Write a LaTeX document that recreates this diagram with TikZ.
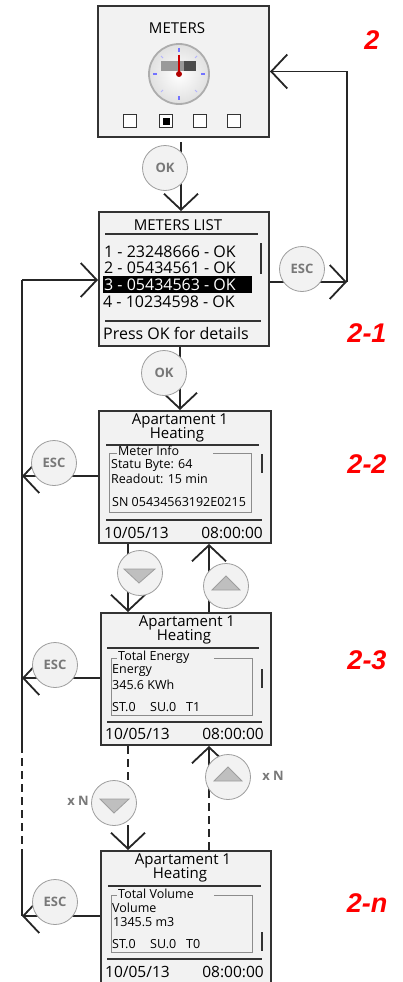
\documentclass[tikz,border=0pt]{standalone}
\usepackage{fontspec}
\setmainfont{Open Sans}
\newfontfamily\tagfont{Liberation Sans}
\usetikzlibrary{arrows.meta,backgrounds}
\definecolor{screenfill}{rgb}{0.95,0.95,0.95}
\definecolor{screenline}{rgb}{0.2,0.2,0.2}
\definecolor{keyline}{rgb}{0.62,0.62,0.62}
\definecolor{keytext}{rgb}{0.47,0.47,0.47}
\definecolor{keytri}{rgb}{0.75,0.75,0.75}
\definecolor{frameline}{rgb}{0.55,0.55,0.55}
\tikzset{
  screenbox/.style={draw=screenline, fill=screenfill, line width=2pt, inner sep=0pt},
  softkey/.style={circle, draw=keyline, fill=screenfill, line width=0.8pt, minimum size=45pt, inner sep=0pt, text=keytext, font=\fontsize{13}{13}\selectfont\bfseries},
  flowline/.style={draw=black!85, line width=1.8pt},
  flowarrow/.style={flowline, -{Straight Barb[length=16pt,width=34pt,line width=1.8pt]}},
  dashline/.style={flowline, dash pattern=on 8pt off 5pt},
  steptag/.style={text=red, font=\tagfont\fontsize{27}{27}\selectfont\bfseries\itshape},
  titletext/.style={inner sep=0pt, font=\fontsize{15}{15}\selectfont},
  rowtext/.style={inner sep=0pt, anchor=west, font=\fontsize{16}{16}\selectfont},
  infotext/.style={inner sep=0pt, anchor=west, font=\fontsize{12.5}{12.5}\selectfont},
  timetext/.style={inner sep=0pt, font=\fontsize{15.5}{15.5}\selectfont},
  countext/.style={inner sep=0pt, text=keytext, font=\fontsize{13}{13}\selectfont\bfseries},
  sepline/.style={draw=screenline, line width=1.5pt},
  scrollbar/.style={draw=screenline, line width=2.4pt},
  framebox/.style={draw=frameline, line width=0.9pt},
  selector/.style={draw=screenline, fill=white!90!screenfill, line width=1.7pt},
  keytriangle/.style={draw=keyline, fill=keytri, line width=0.8pt}
}
\begin{document}
\begin{tikzpicture}[x=1pt,y=-1pt]
\useasboundingbox (0,0) rectangle (403,982);
% screens
\node[screenbox, minimum width=171pt, minimum height=131pt] (meters) at (183.5,71.5) {};
\node[screenbox, minimum width=170pt, minimum height=134pt] (list) at (184,279) {};
\node[screenbox, minimum width=172pt, minimum height=132pt] (info) at (185,477) {};
\node[screenbox, minimum width=170pt, minimum height=132pt] (energy) at (186,679) {};
\node[screenbox, minimum width=170pt, minimum height=135pt] (volume) at (186,918.5) {};
% keys
\node[softkey] (okmeters) at (165,168) {OK};
\node[softkey] (esclist) at (302,269) {ESC};
\node[softkey] (oklist) at (164,373) {OK};
\node[softkey] (escinfo) at (54,463) {ESC};
\node[softkey] (downinfo) at (140,573) {};
\node[softkey] (upenergy) at (226,586) {};
\node[softkey] (escenergy) at (55,665) {ESC};
\node[softkey] (upvolume) at (228,777) {};
\node[softkey] (downvolume) at (114,803) {};
\node[softkey] (escvolume) at (55,902) {ESC};
\draw[keytriangle] (124,569) -- (155,569) -- (139,583) -- cycle;
\draw[keytriangle] (226,576) -- (240,590) -- (212,590) -- cycle;
\draw[keytriangle] (228,767) -- (242,781) -- (214,781) -- cycle;
\draw[keytriangle] (100,799) -- (129,799) -- (114,813) -- cycle;
\node[countext] (countup) at (273,776) {x N};
\node[countext] (countdown) at (78,801) {x N};
% free ends
\coordinate (backturn) at (347,282);
\coordinate (busin) at (22,280);
\coordinate (businfo) at (22,476);
\coordinate (busenergy) at (22,678);
\coordinate (dashtop) at (22,745);
\coordinate (dashend) at (22,853);
\coordinate (busvolume) at (22,916);
\coordinate (downdash) at (128,790);
\coordinate (downsolid) at (128,825);
\coordinate (updash) at (209,790);
% connectors
\begin{scope}[on background layer]
\draw[flowarrow] ([xshift=-2.5pt,yshift=-4pt]meters.south) -- ([xshift=-3pt]list.north);
\draw[flowarrow] ([yshift=-3pt]list.east) -- (backturn);
\draw[flowarrow] (backturn) |- (meters.east);
\draw[flowarrow] (busin) -- ([yshift=-1pt]list.west);
\draw[flowarrow] ([xshift=-4pt]list.south) -- ([xshift=-5pt]info.north);
\draw[flowline] (busin) -- (dashtop);
\draw[dashline] (dashtop) -- (dashend);
\draw[flowline] (dashend) -- (busvolume);
\draw[flowarrow] ([yshift=1pt]info.west) -- (businfo);
\draw[flowarrow] ([yshift=1pt]energy.west) -- (busenergy);
\draw[flowarrow] ([yshift=2.5pt]volume.west) -- (busvolume);
\draw[flowarrow] ([xshift=-57pt]info.south) -- ([xshift=-58pt]energy.north);
\draw[flowarrow] ([xshift=23pt]energy.north) -- ([xshift=24pt]info.south);
\draw[dashline] ([xshift=-58pt]energy.south) -- (downdash);
\draw[flowarrow] (downsolid) -- ([xshift=-58pt]volume.north);
\draw[flowarrow] (updash) -- ([xshift=23pt]energy.south);
\draw[dashline] ([xshift=23pt]volume.north) -- (updash);
\end{scope}
% meters screen
\node[titletext] (meterstitle) at (177,28) {METERS};
\shade[inner color=white, outer color=black!12] (179,74) circle (30);
\draw[black!32, line width=1.8pt] (179,74) circle (30);
\draw[blue!55, line width=1.3pt] (179,48) -- (179,52) (179,96) -- (179,100) (153,74) -- (157,74) (201,74) -- (205,74);
\draw[blue!30, line width=0.8pt] (161,56) -- (163,58) (197,56) -- (195,58) (161,92) -- (163,90) (197,92) -- (195,90);
\fill[black!40] (161,61) rectangle (196,71);
\fill[black!70] (184,61) rectangle (196,71);
\draw[red!80!black, line width=1.5pt] (179,55) -- (179,74);
\fill[red!70!black] (179,74) circle (3);
\draw[selector] (123.5,114.5) rectangle (136.5,127.5);
\draw[selector] (159.5,114.5) rectangle (172.5,127.5);
\fill[black] (162.5,117.5) rectangle (169.5,124.5);
\draw[selector] (193.5,114.5) rectangle (206.5,127.5);
\draw[selector] (227.5,114.5) rectangle (240.5,127.5);
% list screen
\node[titletext] (listtitle) at (178,225) {METERS LIST};
\draw[sepline] (105,234) -- (258,234);
\fill[black] (103,276) rectangle (252,293);
\node[rowtext] (rowone) at (104,252) {1 - 23248666 - OK};
\node[rowtext] (rowtwo) at (104,268) {2 - 05434561 - OK};
\node[rowtext, text=white] (rowthree) at (104,285) {3 - 05434563 - OK};
\node[rowtext] (rowfour) at (103,302) {4 - 10234598 - OK};
\draw[scrollbar] (261,243) -- (261,274);
\draw[sepline] (105,321) -- (261,321);
\node[rowtext] (listhint) at (103,333) {Press OK for details};
% info screen
\node[titletext] (infotitle) at (180,421) {Apartament 1};
\node[titletext] (infosub) at (177,435) {Heating};
\draw[sepline] (106,445) -- (259,445);
\draw[framebox] (117,453) -- (109,453) -- (109,512) -- (251,512) -- (251,453) -- (213,453);
\node[infotext] (infohead) at (118,451) {Meter Info};
\node[infotext] (infobyte) at (111,465) {Statu Byte: 64};
\node[infotext] (inforead) at (111,479) {Readout: 15 min};
\node[infotext] (infosn) at (112,502) {SN 05434563192E0215};
\draw[scrollbar] (262,454) -- (262,473);
\draw[sepline] (106,520) -- (262,520);
\node[timetext, anchor=west] (infodate) at (104,533) {10/05/13};
\node[timetext, anchor=east] (infotime) at (263,533) {08:00:00};
% energy screen
\node[titletext] (energytitle) at (187,623) {Apartament 1};
\node[titletext] (energysub) at (184,637) {Heating};
\draw[sepline] (107,648) -- (259,648);
\draw[framebox] (117,658) -- (111,658) -- (111,715) -- (252,715) -- (252,658) -- (214,658);
\node[infotext] (energyhead) at (118,657) {Total Energy};
\node[infotext] (energyname) at (112,671) {Energy};
\node[infotext] (energyval) at (112,685) {345.6 KWh};
\node[infotext] (energyst) at (112,707) {ST.0};
\node[infotext] (energysu) at (150,707) {SU.0};
\node[infotext] (energyt) at (186,707) {T1};
\draw[scrollbar] (262,669) -- (262,688);
\draw[sepline] (107,722) -- (262,722);
\node[timetext, anchor=west] (energydate) at (105,734) {10/05/13};
\node[timetext, anchor=east] (energytime) at (264,734) {08:00:00};
% volume screen
\node[titletext] (volumetitle) at (183,861) {Apartament 1};
\node[titletext] (volumesub) at (180,875) {Heating};
\draw[sepline] (108,886) -- (261,886);
\draw[framebox] (117,895) -- (111,895) -- (111,952) -- (252,952) -- (252,895) -- (214,895);
\node[infotext] (volumehead) at (118,894) {Total Volume};
\node[infotext] (volumename) at (112,908) {Volume};
\node[infotext] (volumeval) at (113,922) {1345.5 m3};
\node[infotext] (volumest) at (112,944) {ST.0};
\node[infotext] (volumesu) at (150,944) {SU.0};
\node[infotext] (volumet) at (186,944) {T0};
\draw[scrollbar] (262,932) -- (262,951);
\draw[sepline] (107,959) -- (262,959);
\node[timetext, anchor=west] (volumedate) at (105,972) {10/05/13};
\node[timetext, anchor=east] (volumetime) at (264,972) {08:00:00};
% step tags
\node[steptag] (tagmeters) at (372,40) {2};
\node[steptag] (taglist) at (367,333) {2-1};
\node[steptag] (taginfo) at (367,464) {2-2};
\node[steptag] (tagenergy) at (367,660) {2-3};
\node[steptag] (tagvolume) at (367,903) {2-n};
\end{tikzpicture}
\end{document}
